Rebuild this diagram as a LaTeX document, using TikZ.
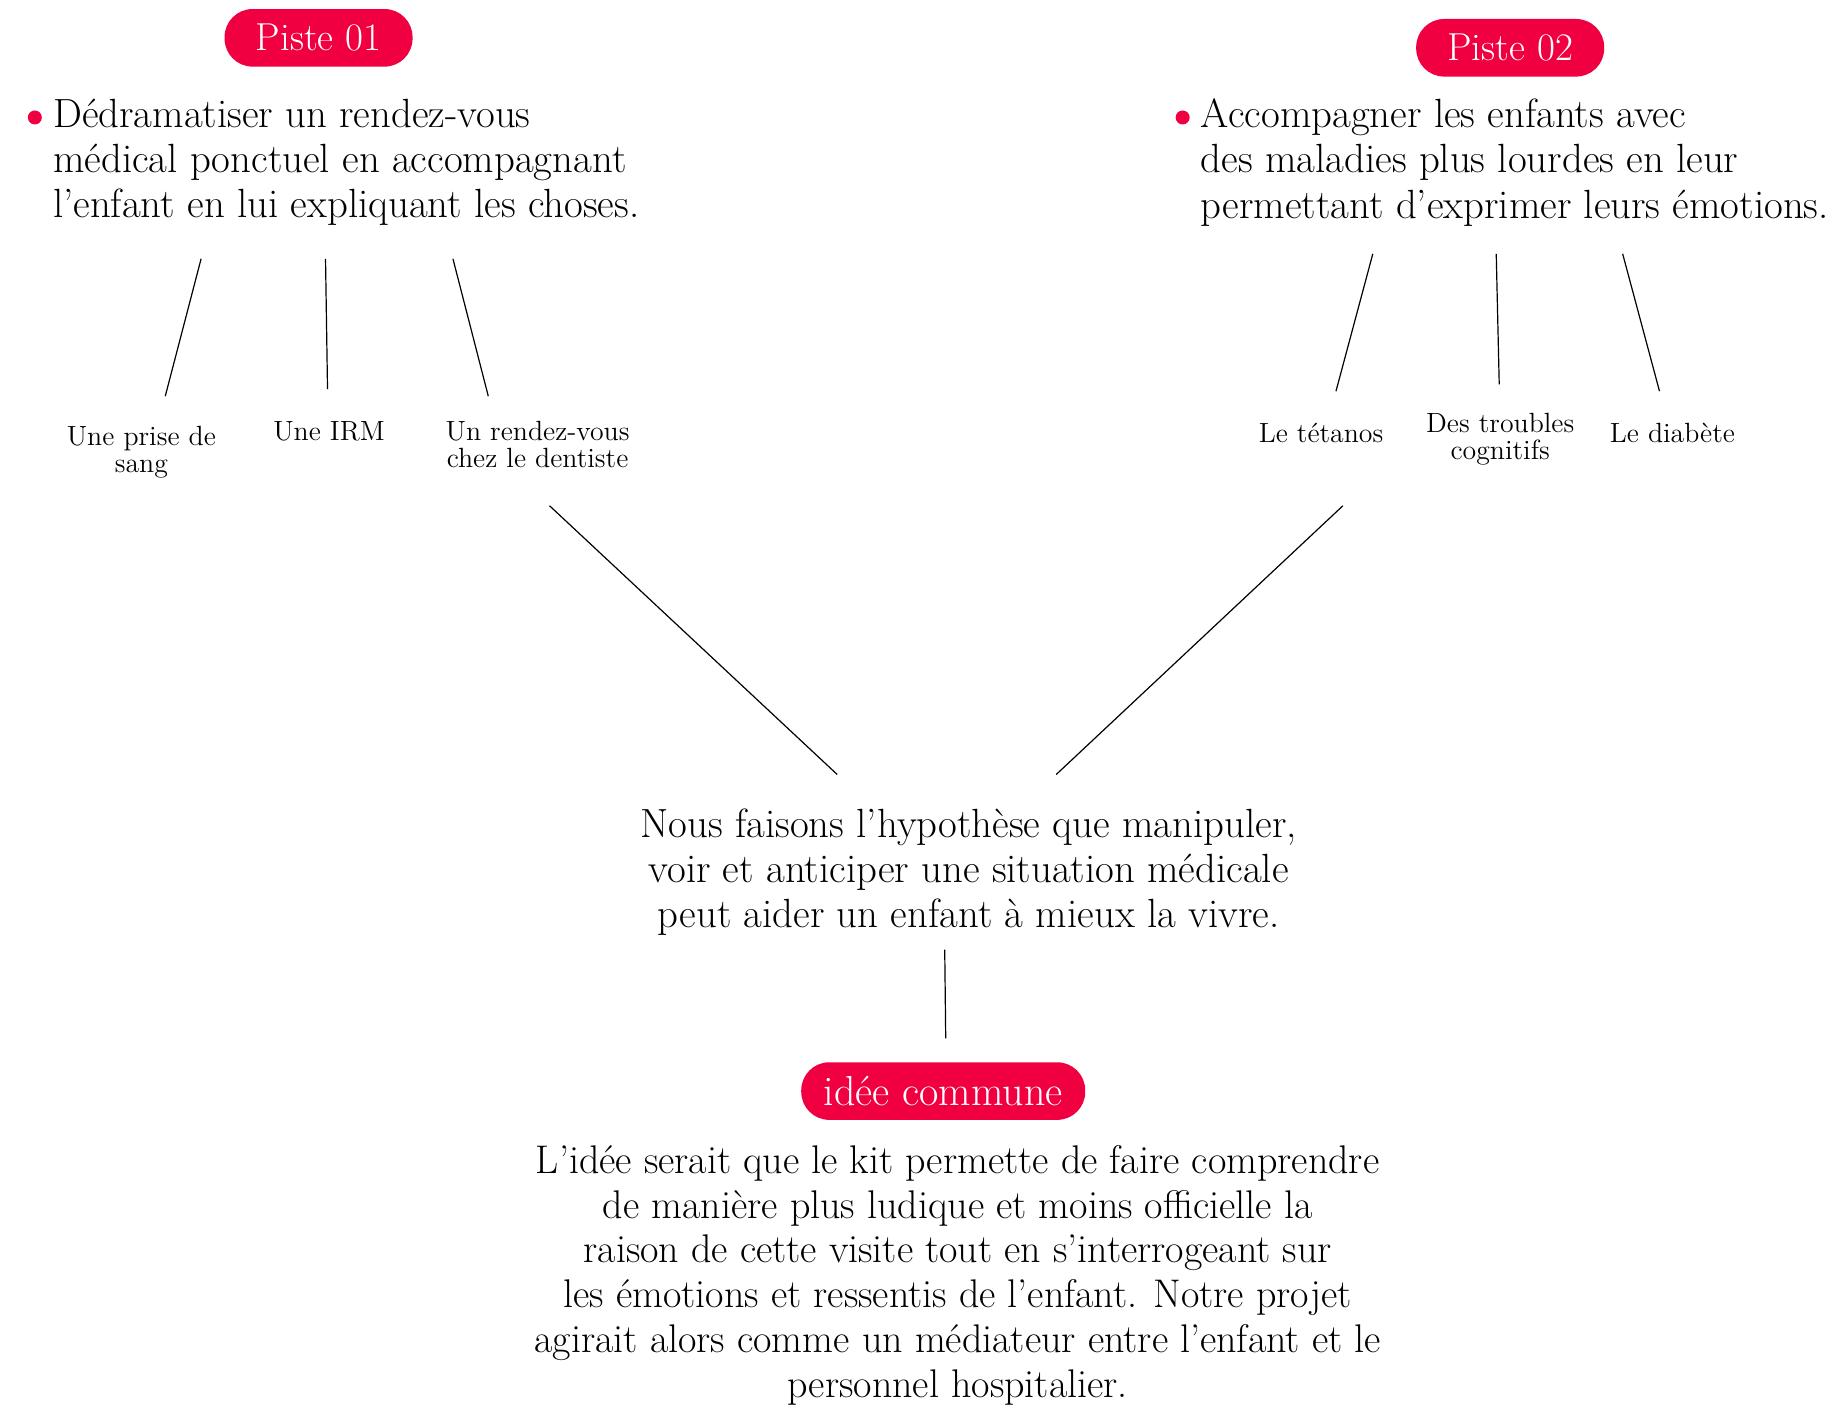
\documentclass[tikz,border=0pt]{standalone}
\definecolor{pistered}{RGB}{240,0,64}
\begin{document}
\begin{tikzpicture}[x=0.49775pt,y=-0.49775pt]
% Styles
\tikzset{pill/.style={fill=pistered, text=white, rounded corners=14pt, minimum height=28.8pt, minimum width=94pt, inner xsep=9pt, font=\fontsize{19.5}{23}\selectfont},
bigtext/.style={inner sep=0pt, font=\fontsize{20.4}{22.6}\selectfont},
smalltext/.style={inner sep=0pt, align=center, font=\fontsize{13.9}{13.5}\selectfont},
dot/.style={circle, fill=pistered, inner sep=0pt, minimum size=7pt},
link/.style={draw, line width=0.6pt}}
\useasboundingbox (0,0) rectangle (1843.3,1413.4);
% the two tracks
\node[pill] (piste1) at (320,38) {Piste 01};
\node[pill] (piste2) at (1517,48) {Piste 02};
\node[dot] (dot1) at (35,118) {};
\node[dot] (dot2) at (1188,118) {};
\node[bigtext, anchor=north west, align=left] (texte1) at (53,99) {Dédramatiser un rendez-vous\\médical ponctuel en accompagnant\\l’enfant en lui expliquant les choses.};
\node[bigtext, anchor=north west, align=left] (texte2) at (1206,99) {Accompagner les enfants avec\\des maladies plus lourdes en leur\\permettant d’exprimer leurs émotions.};
% the examples
\node[smalltext] (sang) at (142,454) {Une prise de\\sang};
\node[smalltext] (irm) at (330.5,433) {Une IRM};
\node[smalltext] (dentiste) at (540,446.5) {Un rendez-vous\\chez le dentiste};
\node[smalltext] (tetanos) at (1327,435) {Le tétanos};
\node[smalltext] (troubles) at (1507,441.5) {Des troubles\\cognitifs};
\node[smalltext] (diabete) at (1680,435) {Le diabète};
% the hypothesis and the common idea
\node[bigtext, align=center] (hypothese) at (973,876) {Nous faisons l’hypothèse que manipuler,\\voir et anticiper une situation médicale\\peut aider un enfant à mieux la vivre.};
\node[pill, minimum width=142pt, font=\fontsize{21}{24}\selectfont] (idee) at (947.5,1096) {idée commune};
\node[bigtext, anchor=north, align=center, font=\fontsize{20}{22.4}\selectfont] (conclusion) at (962,1150) {L’idée serait que le kit permette de faire comprendre\\de manière plus ludique et moins officielle la\\raison de cette visite tout en s’interrogeant sur\\les émotions et ressentis de l’enfant. Notre projet\\agirait alors comme un médiateur entre l’enfant et le\\personnel hospitalier.};
% ends of the connectors
\foreach \n/\xa/\ya/\xb/\yb in {sang/202/260/166/398, irm/327/260/329/391, dent/455/260/490.5/398,
tet/1379/255/1342/393, trou/1503/255/1506/386, diab/1630/255/1667/393,
gauche/552/508/841/778, droite/1349/508/1061/778, commun/949/954/950/1043} {
\coordinate (\n-a) at (\xa,\ya);
\coordinate (\n-b) at (\xb,\yb);
}
% the connectors
\foreach \n in {sang,irm,dent,tet,trou,diab,gauche,droite,commun} {
\draw[link] (\n-a) -- (\n-b);
}
\end{tikzpicture}
\end{document}
